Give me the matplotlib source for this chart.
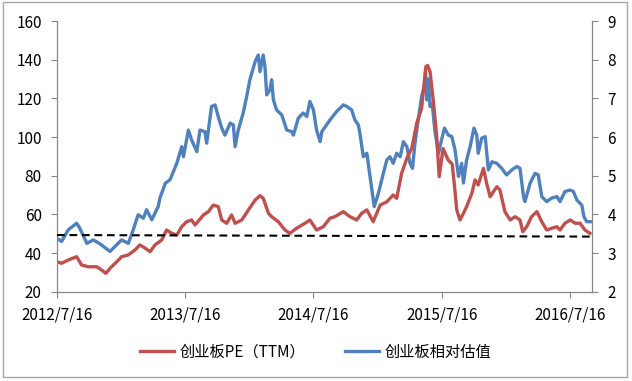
import numpy as np
import pandas as pd
import matplotlib
matplotlib.use('Agg')
import matplotlib.pyplot as plt
import matplotlib.dates as mdates
from matplotlib.patches import Rectangle

plt.rcParams['font.family'] = ['Noto Sans CJK SC', 'DejaVu Sans']

# 创业板相对估值 (right axis)
rel_dates = [
    '2012-07-16', '2012-07-29', '2012-08-17', '2012-09-10', '2012-09-19', '2012-10-09',
    '2012-10-27', '2012-11-15', '2012-12-14', '2012-12-28', '2013-01-16', '2013-02-04',
    '2013-02-18', '2013-03-04', '2013-03-19', '2013-03-28', '2013-04-12', '2013-04-30',
    '2013-05-05', '2013-05-20', '2013-06-03', '2013-06-22', '2013-07-06', '2013-07-11',
    '2013-07-25', '2013-08-03', '2013-08-18', '2013-08-27', '2013-09-10', '2013-09-15',
    '2013-09-29', '2013-10-09', '2013-10-18', '2013-10-28', '2013-11-06', '2013-11-21',
    '2013-11-30', '2013-12-05', '2013-12-14', '2013-12-28', '2014-01-07', '2014-01-16',
    '2014-01-31', '2014-02-09', '2014-02-14', '2014-02-23', '2014-02-28', '2014-03-05',
    '2014-03-14', '2014-03-19', '2014-03-24', '2014-04-02', '2014-04-17', '2014-05-01',
    '2014-05-15', '2014-05-20', '2014-06-03', '2014-06-17', '2014-06-27', '2014-07-06',
    '2014-07-16', '2014-07-25', '2014-08-04', '2014-08-09', '2014-09-01', '2014-09-20',
    '2014-10-09', '2014-10-19', '2014-11-02', '2014-11-11', '2014-11-21', '2014-11-26',
    '2014-12-05', '2014-12-15', '2014-12-24', '2015-01-05', '2015-01-17', '2015-01-31',
    '2015-02-10', '2015-02-19', '2015-02-28', '2015-03-10', '2015-03-20', '2015-03-29',
    '2015-04-08', '2015-04-17', '2015-04-24', '2015-05-01', '2015-05-09', '2015-05-20',
    '2015-05-28', '2015-05-31', '2015-06-04', '2015-06-08', '2015-06-13', '2015-06-19',
    '2015-06-27', '2015-07-07', '2015-07-11', '2015-07-24', '2015-08-04', '2015-08-14',
    '2015-08-23', '2015-09-02', '2015-09-11', '2015-09-16', '2015-09-25', '2015-10-05',
    '2015-10-16', '2015-10-24', '2015-10-28', '2015-11-07', '2015-11-17', '2015-11-26',
    '2015-12-06', '2015-12-20', '2016-01-03', '2016-01-17', '2016-02-01', '2016-02-15',
    '2016-02-24', '2016-03-05', '2016-03-09', '2016-03-24', '2016-04-07', '2016-04-16',
    '2016-04-26', '2016-05-10', '2016-05-24', '2016-06-08', '2016-06-17', '2016-07-01',
    '2016-07-16', '2016-07-25', '2016-08-04', '2016-08-18', '2016-08-24', '2016-09-01',
    '2016-09-12',
]
rel_values = [
    3.38, 3.30, 3.60, 3.77, 3.64, 3.25, 3.34, 3.24, 3.04, 3.17, 3.34, 3.25,
    3.60, 3.99, 3.90, 4.12, 3.86, 4.20, 4.42, 4.80, 4.90, 5.32, 5.75, 5.49,
    6.18, 5.93, 5.62, 6.18, 6.14, 5.84, 6.79, 6.83, 6.53, 6.23, 6.05, 6.36,
    6.31, 5.75, 6.18, 6.62, 7.05, 7.48, 7.95, 8.12, 7.69, 8.12, 7.82, 7.09,
    7.22, 7.48, 6.96, 6.70, 6.57, 6.18, 6.14, 6.05, 6.49, 6.62, 6.53, 6.92,
    6.70, 6.18, 5.88, 6.14, 6.44, 6.66, 6.83, 6.79, 6.70, 6.44, 6.31, 6.05,
    5.49, 5.58, 4.98, 4.20, 4.55, 5.06, 5.41, 5.49, 5.32, 5.58, 5.49, 5.88,
    5.75, 5.32, 5.19, 5.84, 6.36, 7.05, 7.31, 7.69, 6.96, 7.50, 6.79, 6.87,
    6.14, 5.58, 5.75, 6.23, 6.05, 6.01, 5.67, 4.98, 5.32, 4.81, 5.41, 5.75,
    6.23, 6.05, 5.58, 5.97, 6.01, 5.15, 5.36, 5.32, 5.19, 5.02, 5.15, 5.24,
    5.19, 4.46, 4.33, 4.81, 5.06, 5.02, 4.46, 4.33, 4.42, 4.46, 4.33, 4.59,
    4.63, 4.59, 4.37, 4.24, 3.94, 3.81, 3.81,
]

# 创业板PE（TTM） (left axis)
pe_dates = [
    '2012-07-16', '2012-07-29', '2012-08-17', '2012-09-10', '2012-09-24', '2012-10-13',
    '2012-11-06', '2012-11-20', '2012-12-02', '2012-12-14', '2013-01-02', '2013-01-16',
    '2013-02-04', '2013-02-23', '2013-03-09', '2013-03-24', '2013-04-07', '2013-04-21',
    '2013-05-10', '2013-05-24', '2013-06-08', '2013-06-22', '2013-07-06', '2013-07-20',
    '2013-08-03', '2013-08-13', '2013-09-06', '2013-09-20', '2013-10-04', '2013-10-18',
    '2013-10-28', '2013-11-11', '2013-11-25', '2013-12-05', '2013-12-24', '2014-01-12',
    '2014-01-31', '2014-02-14', '2014-02-23', '2014-03-10', '2014-03-19', '2014-04-07',
    '2014-04-26', '2014-05-10', '2014-05-29', '2014-06-22', '2014-07-06', '2014-07-25',
    '2014-08-13', '2014-09-01', '2014-09-15', '2014-10-09', '2014-10-28', '2014-11-16',
    '2014-11-30', '2014-12-15', '2015-01-02', '2015-01-22', '2015-02-10', '2015-02-28',
    '2015-03-10', '2015-03-24', '2015-04-08', '2015-04-22', '2015-05-06', '2015-05-20',
    '2015-06-01', '2015-06-06', '2015-06-13', '2015-06-22', '2015-07-02', '2015-07-09',
    '2015-07-20', '2015-08-04', '2015-08-15', '2015-08-23', '2015-08-28', '2015-09-06',
    '2015-09-16', '2015-09-25', '2015-10-10', '2015-10-19', '2015-10-28', '2015-11-12',
    '2015-11-21', '2015-12-01', '2015-12-20', '2015-12-29', '2016-01-12', '2016-01-27',
    '2016-02-10', '2016-02-24', '2016-03-03', '2016-03-14', '2016-03-28', '2016-04-12',
    '2016-04-26', '2016-05-10', '2016-05-24', '2016-06-08', '2016-06-17', '2016-07-01',
    '2016-07-16', '2016-07-30', '2016-08-13', '2016-08-27', '2016-09-10',
]
pe_values = [
    35.5, 34.7, 36.4, 38.1, 33.8, 32.9, 32.9, 31.2, 29.5, 32.1, 35.5, 38.1,
    39.0, 41.6, 44.2, 42.5, 40.7, 44.2, 46.7, 51.9, 50.2, 49.3, 53.6, 56.2,
    57.1, 54.5, 59.7, 61.4, 64.8, 64.0, 57.1, 55.4, 59.7, 55.4, 57.1, 62.3,
    67.4, 69.7, 68.3, 60.5, 58.8, 56.2, 51.9, 50.2, 52.8, 55.4, 57.1, 51.9,
    53.6, 58.0, 58.8, 61.4, 58.8, 57.1, 60.5, 62.3, 56.2, 64.8, 66.5, 70.0,
    68.3, 81.2, 89.0, 94.2, 107.1, 114.9, 136.4, 137.0, 133.8, 119.1, 100.2, 79.5,
    94.0, 88.0, 86.0, 72.0, 62.3, 57.1, 60.5, 64.0, 70.9, 77.8, 75.2, 83.8,
    76.1, 69.1, 74.3, 72.6, 61.4, 57.1, 58.8, 57.1, 51.0, 53.6, 58.8, 61.4,
    56.2, 51.9, 52.8, 53.6, 51.9, 55.4, 57.1, 55.4, 55.4, 51.9, 50.2,
]

# dashed reference line (left axis)
ref_dates = ['2012-07-16', '2016-09-12']
ref_values = [49.3, 48.5]

xtick_dates = ['2012-07-16', '2013-07-16', '2014-07-16', '2015-07-16', '2016-07-16']
xtick_labels = ['2012/7/16', '2013/7/16', '2014/7/16', '2015/7/16', '2016/7/16']

RED = '#C0504D'
BLUE = '#4F81BD'
GRAY = '#868686'

fig = plt.figure(figsize=(6.32, 3.81), dpi=100)
ax = fig.add_axes([57 / 632, 1 - 291.7 / 381, 535 / 632, 270.7 / 381])
ax2 = ax.twinx()
ax.set_zorder(ax2.get_zorder() + 1)
ax.patch.set_visible(False)

l2, = ax2.plot(pd.to_datetime(rel_dates), rel_values, color=BLUE, lw=2.4,
               solid_joinstyle='round')
l1, = ax.plot(pd.to_datetime(pe_dates), pe_values, color=RED, lw=2.4,
              solid_joinstyle='round')
ax.plot(pd.to_datetime(ref_dates), ref_values, color='black', lw=1.5,
        dashes=(3.7, 2.3), zorder=5)

ax.set_xlim(pd.Timestamp('2012-07-16'), pd.Timestamp('2016-09-16'))
ax.set_ylim(20, 160)
ax.set_yticks(np.arange(20, 161, 20))
ax2.set_ylim(2, 9)
ax2.set_yticks(np.arange(2, 10, 1))
ax.set_xticks(pd.to_datetime(xtick_dates))
ax.set_xticklabels(xtick_labels)

for a in (ax, ax2):
    a.spines['top'].set_visible(False)
    for s in a.spines.values():
        s.set_color(GRAY)
        s.set_linewidth(0.8)
    a.tick_params(colors=GRAY, labelcolor='black', labelsize=11,
                  length=4, width=0.8, direction='out', pad=7)

fig.legend([l1, l2], ['创业板PE（TTM）', '创业板相对估值'], loc='center',
           bbox_to_anchor=(0.5, 1 - 352 / 381), ncol=2, frameon=False,
           fontsize=11, handlelength=2.2, handletextpad=0.4, columnspacing=2.6)

fig.patches.append(Rectangle((3 / 632, 4 / 381), 624 / 632, 375 / 381,
                             transform=fig.transFigure, fill=False,
                             edgecolor='#A6A6A6', lw=1.0))

fig.savefig('out.png', dpi=100)
